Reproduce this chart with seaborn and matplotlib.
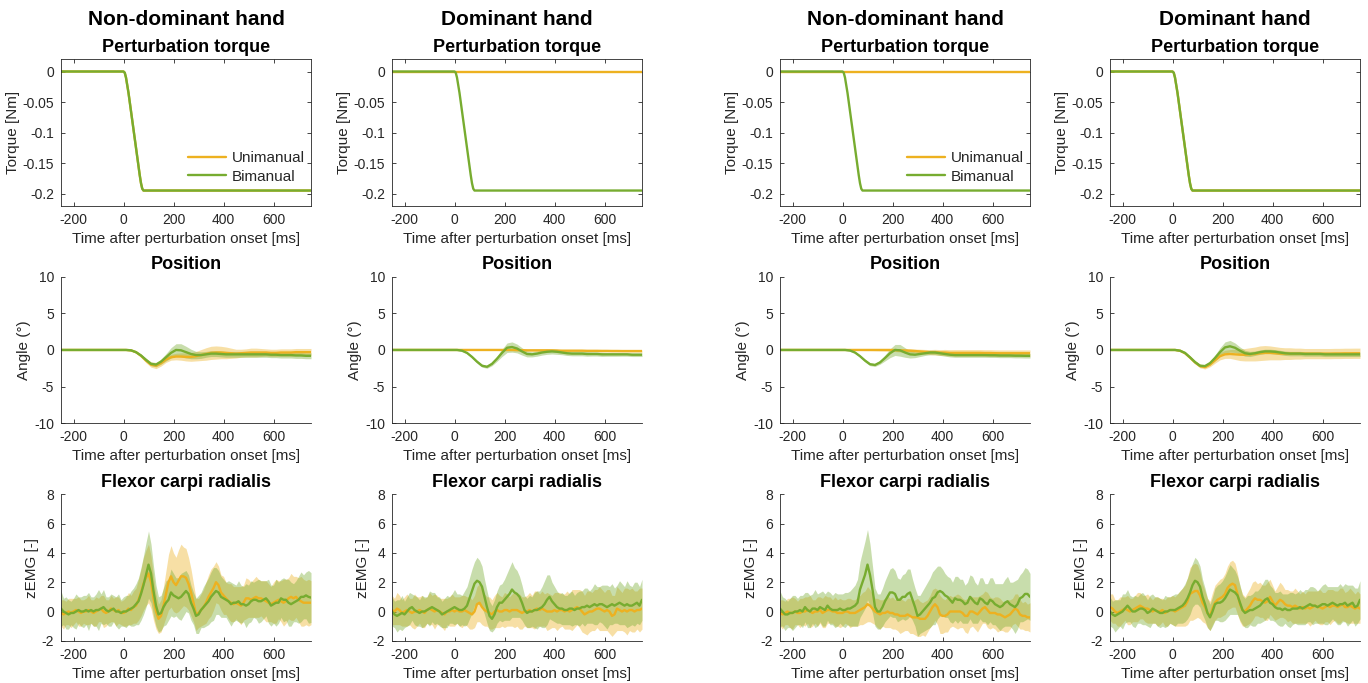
import numpy as np
import matplotlib
matplotlib.use("Agg")
import matplotlib.pyplot as plt
import seaborn as sns

sns.set_style("ticks")
plt.rcParams["font.family"] = ["Liberation Sans", "DejaVu Sans"]

# ---------------------------------------------------------------- data
col_titles = ["Non-dominant hand", "Dominant hand", "Non-dominant hand", "Dominant hand"]
row_titles = ["Perturbation torque", "Position", "Flexor carpi radialis"]
row_ylabels = ["Torque [Nm]", "Angle (°)", "zEMG [-]"]
xlabel = "Time after perturbation onset [ms]"
conditions = ["Unimanual", "Bimanual"]

xticks = [-200, 0, 200, 400, 600]
torque_yticks = [-0.2, -0.15, -0.1, -0.05, 0]
torque_yticklabels = ["-0.2", "-0.15", "-0.1", "-0.05", "0"]
pos_yticks = [-10, -5, 0, 5, 10]
emg_yticks = [-2, 0, 2, 4, 6, 8]

# perturbation torque (Nm)
t_torque = [-250, -200, -150, -100, -50, -10, 0, 5, 10, 20, 30, 40, 50, 60, 65, 70, 75, 80,
            100, 200, 300, 400, 500, 600, 700, 750]
torque_perturbed = [0.0, 0.0, 0.0, 0.0, 0.0, 0.0, 0.0, -0.002, -0.01, -0.035, -0.065, -0.095,
                    -0.125, -0.155, -0.17, -0.183, -0.192, -0.195,
                    -0.195, -0.195, -0.195, -0.195, -0.195, -0.195, -0.195, -0.195]
torque_unperturbed = [0.0, 0.0, 0.0, 0.0, 0.0, 0.0, 0.0, 0.0, 0.0, 0.0, 0.0, 0.0,
                      0.0, 0.0, 0.0, 0.0, 0.0, 0.0,
                      0.0, 0.0, 0.0, 0.0, 0.0, 0.0, 0.0, 0.0]

# wrist angle (deg), sampled every 20 ms from -250 to 750 ms
t_pos = np.arange(-250, 751, 20)

pos_a_nd_uni = [0, 0, 0, 0, 0, 0, 0, 0, 0, 0,
                0, 0, 0, 0, -0.05, -0.3, -0.8, -1.45, -2.0, -2.15,
                -1.8, -1.3, -1.0, -0.9, -0.9, -0.95, -0.95, -0.85, -0.7, -0.55,
                -0.4, -0.35, -0.35, -0.4, -0.45, -0.5, -0.45, -0.4, -0.35, -0.35,
                -0.35, -0.35, -0.4, -0.4, -0.35, -0.35, -0.35, -0.3, -0.3, -0.3,
                -0.3]
pos_a_nd_uni_sd = [0.08, 0.08, 0.08, 0.08, 0.08, 0.08, 0.08, 0.08, 0.08, 0.08,
                   0.08, 0.08, 0.08, 0.08, 0.1, 0.14, 0.2, 0.3, 0.35, 0.4,
                   0.4, 0.4, 0.4, 0.45, 0.5, 0.55, 0.6, 0.65, 0.75, 0.85,
                   0.9, 0.9, 0.85, 0.8, 0.7, 0.6, 0.55, 0.55, 0.6, 0.6,
                   0.55, 0.5, 0.5, 0.5, 0.5, 0.5, 0.5, 0.5, 0.5, 0.5,
                   0.5]
pos_a_nd_bi = [0, 0, 0, 0, 0, 0, 0, 0, 0, 0,
               0, 0, 0, 0, -0.05, -0.3, -0.75, -1.35, -1.9, -2.0,
               -1.6, -1.0, -0.4, 0.0, -0.05, -0.3, -0.55, -0.7, -0.7, -0.6,
               -0.5, -0.5, -0.55, -0.6, -0.6, -0.6, -0.6, -0.6, -0.6, -0.6,
               -0.6, -0.6, -0.65, -0.65, -0.7, -0.7, -0.7, -0.75, -0.75, -0.8,
               -0.8]
pos_a_nd_bi_sd = [0.08, 0.08, 0.08, 0.08, 0.08, 0.08, 0.08, 0.08, 0.08, 0.08,
                  0.08, 0.08, 0.08, 0.08, 0.1, 0.12, 0.15, 0.2, 0.25, 0.3,
                  0.35, 0.5, 0.7, 0.85, 0.9, 0.8, 0.65, 0.5, 0.45, 0.4,
                  0.4, 0.4, 0.4, 0.4, 0.4, 0.4, 0.4, 0.4, 0.4, 0.4,
                  0.4, 0.4, 0.4, 0.4, 0.4, 0.4, 0.4, 0.4, 0.4, 0.4,
                  0.4]
pos_a_d_uni = [0, 0, 0, 0, 0, 0, 0, 0, 0, 0,
               0, 0, 0, 0, 0, 0, 0, 0, 0, 0,
               0, 0, 0, 0, 0, -0.02, -0.03, -0.05, -0.05, -0.05,
               -0.05, -0.05, -0.06, -0.08, -0.1, -0.1, -0.1, -0.1, -0.1, -0.12,
               -0.12, -0.12, -0.13, -0.13, -0.14, -0.14, -0.15, -0.15, -0.15, -0.15,
               -0.15]
pos_a_d_uni_sd = [0.08, 0.08, 0.08, 0.08, 0.08, 0.08, 0.08, 0.08, 0.08, 0.08,
                  0.08, 0.08, 0.08, 0.08, 0.08, 0.08, 0.08, 0.08, 0.08, 0.08,
                  0.08, 0.08, 0.1, 0.1, 0.1, 0.12, 0.12, 0.12, 0.14, 0.14,
                  0.15, 0.15, 0.15, 0.15, 0.15, 0.15, 0.15, 0.15, 0.15, 0.15,
                  0.15, 0.15, 0.15, 0.15, 0.15, 0.15, 0.15, 0.15, 0.15, 0.15,
                  0.15]
pos_a_d_bi = [0, 0, 0, 0, 0, 0, 0, 0, 0, 0,
              0, 0, 0, 0, -0.1, -0.4, -0.95, -1.6, -2.15, -2.3,
              -1.9, -1.2, -0.4, 0.3, 0.4, 0.2, -0.2, -0.55, -0.6, -0.5,
              -0.35, -0.25, -0.2, -0.25, -0.35, -0.45, -0.5, -0.5, -0.5, -0.55,
              -0.55, -0.55, -0.6, -0.6, -0.6, -0.6, -0.6, -0.6, -0.65, -0.65,
              -0.65]
pos_a_d_bi_sd = [0.08, 0.08, 0.08, 0.08, 0.08, 0.08, 0.08, 0.08, 0.08, 0.08,
                 0.08, 0.08, 0.08, 0.08, 0.1, 0.12, 0.15, 0.18, 0.2, 0.2,
                 0.25, 0.35, 0.5, 0.65, 0.7, 0.6, 0.5, 0.4, 0.35, 0.35,
                 0.35, 0.35, 0.35, 0.35, 0.3, 0.3, 0.3, 0.3, 0.3, 0.3,
                 0.28, 0.28, 0.28, 0.26, 0.26, 0.26, 0.25, 0.25, 0.25, 0.25,
                 0.25]
pos_b_nd_uni = [0, 0, 0, 0, 0, 0, 0, 0, 0, 0,
                0, 0, 0, 0, 0, 0, 0, 0, 0, 0,
                0, 0, 0, -0.02, -0.05, -0.08, -0.1, -0.15, -0.2, -0.25,
                -0.3, -0.3, -0.35, -0.35, -0.4, -0.4, -0.4, -0.4, -0.4, -0.4,
                -0.4, -0.42, -0.42, -0.44, -0.45, -0.45, -0.45, -0.45, -0.45, -0.45,
                -0.45]
pos_b_nd_uni_sd = [0.08, 0.08, 0.08, 0.08, 0.08, 0.08, 0.08, 0.08, 0.08, 0.08,
                   0.08, 0.08, 0.08, 0.08, 0.08, 0.08, 0.08, 0.1, 0.1, 0.12,
                   0.14, 0.16, 0.18, 0.2, 0.22, 0.24, 0.26, 0.28, 0.3, 0.32,
                   0.35, 0.38, 0.4, 0.42, 0.44, 0.45, 0.45, 0.45, 0.45, 0.45,
                   0.45, 0.45, 0.45, 0.45, 0.45, 0.45, 0.45, 0.45, 0.45, 0.45,
                   0.45]
pos_b_nd_bi = [0, 0, 0, 0, 0, 0, 0, 0, 0, 0,
               0, 0, 0, 0, -0.08, -0.35, -0.85, -1.45, -1.95, -2.05,
               -1.7, -1.1, -0.45, 0.0, -0.05, -0.35, -0.6, -0.65, -0.55, -0.45,
               -0.35, -0.35, -0.45, -0.55, -0.65, -0.7, -0.7, -0.7, -0.7, -0.7,
               -0.7, -0.7, -0.72, -0.72, -0.75, -0.75, -0.75, -0.78, -0.78, -0.8,
               -0.8]
pos_b_nd_bi_sd = [0.08, 0.08, 0.08, 0.08, 0.08, 0.08, 0.08, 0.08, 0.08, 0.08,
                  0.08, 0.08, 0.08, 0.08, 0.1, 0.12, 0.15, 0.18, 0.2, 0.2,
                  0.25, 0.4, 0.6, 0.75, 0.8, 0.65, 0.5, 0.4, 0.35, 0.3,
                  0.3, 0.3, 0.3, 0.3, 0.3, 0.3, 0.3, 0.3, 0.3, 0.3,
                  0.3, 0.3, 0.3, 0.3, 0.3, 0.3, 0.3, 0.3, 0.3, 0.3,
                  0.3]
pos_b_d_uni = [0, 0, 0, 0, 0, 0, 0, 0, 0, 0,
               0, 0, 0, 0, -0.1, -0.45, -1.05, -1.7, -2.2, -2.35,
               -2.0, -1.4, -0.85, -0.6, -0.55, -0.6, -0.65, -0.65, -0.6, -0.55,
               -0.45, -0.4, -0.4, -0.45, -0.5, -0.5, -0.5, -0.5, -0.5, -0.5,
               -0.5, -0.5, -0.5, -0.5, -0.5, -0.48, -0.48, -0.46, -0.46, -0.45,
               -0.45]
pos_b_d_uni_sd = [0.08, 0.08, 0.08, 0.08, 0.08, 0.08, 0.08, 0.08, 0.08, 0.08,
                  0.08, 0.08, 0.08, 0.08, 0.1, 0.12, 0.16, 0.2, 0.25, 0.25,
                  0.3, 0.4, 0.5, 0.55, 0.6, 0.7, 0.8, 0.85, 0.9, 0.95,
                  1.0, 1.0, 0.95, 0.9, 0.85, 0.8, 0.8, 0.75, 0.75, 0.7,
                  0.7, 0.7, 0.7, 0.7, 0.7, 0.7, 0.7, 0.7, 0.7, 0.7,
                  0.7]
pos_b_d_bi = [0, 0, 0, 0, 0, 0, 0, 0, 0, 0,
              0, 0, 0, 0, -0.1, -0.4, -1.0, -1.65, -2.15, -2.2,
              -1.8, -1.1, -0.3, 0.35, 0.5, 0.3, -0.1, -0.45, -0.55, -0.45,
              -0.3, -0.2, -0.2, -0.25, -0.35, -0.45, -0.5, -0.5, -0.5, -0.55,
              -0.55, -0.55, -0.55, -0.6, -0.6, -0.6, -0.6, -0.6, -0.6, -0.6,
              -0.6]
pos_b_d_bi_sd = [0.08, 0.08, 0.08, 0.08, 0.08, 0.08, 0.08, 0.08, 0.08, 0.08,
                 0.08, 0.08, 0.08, 0.08, 0.1, 0.12, 0.15, 0.18, 0.2, 0.2,
                 0.25, 0.4, 0.6, 0.75, 0.8, 0.65, 0.5, 0.4, 0.35, 0.3,
                 0.3, 0.3, 0.3, 0.3, 0.3, 0.3, 0.3, 0.3, 0.3, 0.3,
                 0.3, 0.3, 0.3, 0.3, 0.3, 0.3, 0.3, 0.3, 0.3, 0.3,
                 0.3]

# flexor carpi radialis zEMG, sampled every 10 ms from -250 to 750 ms
t_emg = np.arange(-250, 751, 10)

emg_a_nd_uni = [-0.1, -0.2, -0.1, 0.0, -0.1, 0.0, 0.1, 0.0, -0.1, 0.0,
                0.0, 0.1, 0.0, -0.1, 0.0, 0.1, 0.2, 0.0, -0.1, 0.0,
                0.2, 0.1, 0.0, 0.1, -0.1, -0.1, 0.0, 0.2, 0.1, 0.3,
                0.4, 0.8, 1.3, 1.9, 2.3, 2.6, 2.0, 0.9, 0.0, -0.5,
                -0.3, 0.4, 1.2, 2.0, 2.4, 2.0, 1.8, 2.1, 2.4, 2.4,
                2.3, 1.9, 1.3, 0.6, -0.2, -0.1, 0.1, 0.3, 0.6, 1.0,
                1.3, 1.6, 2.0, 1.8, 1.3, 1.1, 0.9, 0.7, 0.6, 0.5,
                0.6, 0.5, 0.4, 0.6, 0.9, 0.9, 0.8, 0.9, 1.0, 0.9,
                0.9, 0.8, 0.7, 0.6, 0.5, 0.6, 0.7, 0.8, 0.7, 0.6,
                0.7, 0.9, 1.0, 0.9, 1.0, 0.8, 0.7, 0.6, 0.6, 0.6,
                0.6]
emg_a_nd_uni_sd = [0.9, 1.0, 0.8, 0.9, 1.0, 0.9, 0.8, 1.0, 0.9, 0.8,
                   0.9, 1.0, 0.8, 0.9, 1.0, 0.8, 0.9, 1.1, 0.9, 0.8,
                   0.9, 0.8, 1.0, 0.9, 0.8, 0.9, 1.0, 1.1, 1.0, 1.1,
                   1.2, 1.4, 1.6, 1.8, 1.9, 2.0, 1.8, 1.5, 1.2, 1.0,
                   1.1, 1.3, 1.6, 1.9, 2.1, 2.0, 1.9, 2.1, 2.2, 2.0,
                   2.0, 1.8, 1.6, 1.3, 1.1, 1.0, 1.1, 1.2, 1.4, 1.5,
                   1.6, 1.5, 1.4, 1.3, 1.2, 1.3, 1.1, 1.2, 1.3, 1.2,
                   1.1, 1.2, 1.3, 1.2, 1.4, 1.3, 1.2, 1.3, 1.4, 1.3,
                   1.2, 1.3, 1.4, 1.3, 1.2, 1.4, 1.5, 1.3, 1.4, 1.6,
                   1.5, 1.4, 1.6, 1.5, 1.4, 1.5, 1.7, 1.6, 1.5, 1.6,
                   1.5]
emg_a_nd_bi = [0.2, 0.0, -0.1, -0.2, -0.1, -0.1, 0.0, 0.1, 0.0, 0.0,
               0.1, 0.0, 0.1, 0.0, 0.1, 0.1, 0.2, 0.3, 0.1, 0.0,
               0.1, 0.2, 0.0, 0.0, -0.1, 0.0, 0.0, 0.1, 0.2, 0.3,
               0.5, 0.7, 1.2, 1.8, 2.5, 3.2, 2.6, 1.4, 0.4, -0.2,
               -0.1, 0.3, 0.6, 0.8, 1.3, 1.1, 1.0, 0.9, 1.0, 1.2,
               1.4, 1.2, 0.6, 0.2, -0.3, -0.2, 0.1, 0.3, 0.5, 0.7,
               1.0, 1.2, 1.4, 1.3, 1.0, 0.9, 0.8, 0.7, 0.5, 0.6,
               0.6, 0.7, 0.5, 0.5, 0.4, 0.5, 0.7, 0.8, 0.8, 0.7,
               0.7, 0.8, 0.9, 0.7, 0.4, 0.5, 0.6, 0.6, 0.9, 0.8,
               0.8, 0.6, 0.5, 0.6, 0.7, 0.8, 1.0, 1.0, 1.1, 1.0,
               0.95]
emg_a_nd_bi_sd = [1.2, 0.9, 1.1, 1.0, 0.8, 1.0, 1.2, 0.9, 1.0, 1.1,
                  1.0, 1.3, 0.9, 1.0, 1.1, 1.4, 1.0, 1.2, 0.9, 1.0,
                  1.1, 0.9, 1.0, 1.2, 0.9, 1.0, 1.1, 1.0, 1.2, 1.3,
                  1.4, 1.6, 1.8, 2.0, 2.2, 2.3, 2.0, 1.7, 1.4, 1.2,
                  1.2, 1.3, 1.5, 1.4, 1.6, 1.5, 1.3, 1.4, 1.6, 1.5,
                  1.4, 1.3, 1.2, 1.1, 1.2, 1.3, 1.2, 1.4, 1.5, 1.6,
                  1.7, 1.8, 1.6, 1.5, 1.4, 1.3, 1.2, 1.4, 1.5, 1.3,
                  1.2, 1.4, 1.3, 1.2, 1.5, 1.3, 1.4, 1.2, 1.3, 1.5,
                  1.4, 1.3, 1.2, 1.5, 1.4, 1.3, 1.6, 1.4, 1.3, 1.5,
                  1.4, 1.6, 1.5, 1.3, 1.4, 1.6, 1.7, 1.5, 1.6, 1.8,
                  1.7]
emg_a_d_uni = [0.1, 0.0, 0.2, 0.1, -0.1, 0.0, 0.1, 0.0, -0.1, 0.0,
               0.0, 0.1, 0.0, -0.1, 0.1, 0.2, 0.1, 0.0, 0.1, 0.0,
               -0.1, -0.2, 0.0, 0.0, 0.1, 0.0, 0.1, 0.0, 0.0, 0.1,
               0.0, -0.1, -0.2, 0.0, 0.5, 0.6, 0.3, 0.1, 0.0, -0.1,
               -0.2, 0.0, 0.1, 0.0, 0.0, 0.1, 0.1, 0.0, 0.1, 0.1,
               0.1, 0.0, -0.1, 0.0, 0.0, 0.1, 0.0, 0.1, 0.2, 0.1,
               0.2, 0.1, 0.0, 0.0, 0.0, 0.1, 0.0, 0.1, 0.1, 0.0,
               0.1, 0.0, 0.1, 0.2, 0.3, 0.2, 0.0, -0.2, -0.1, 0.0,
               0.0, 0.1, 0.2, 0.2, 0.1, 0.0, 0.1, 0.0, -0.3, -0.2,
               0.2, 0.1, 0.0, 0.1, 0.0, 0.1, 0.1, 0.0, 0.1, 0.1,
               0.2]
emg_a_d_uni_sd = [1.0, 0.9, 1.1, 1.0, 0.9, 1.0, 1.1, 0.9, 1.0, 1.2,
                  1.0, 0.9, 1.1, 1.0, 0.9, 1.1, 1.0, 1.2, 1.0, 0.9,
                  1.0, 1.1, 0.9, 1.0, 1.1, 1.0, 0.9, 1.0, 1.1, 1.0,
                  1.0, 1.1, 1.0, 1.1, 1.2, 1.3, 1.2, 1.1, 1.0, 1.1,
                  1.0, 1.1, 1.2, 1.1, 1.0, 1.2, 1.1, 1.0, 1.1, 1.2,
                  1.1, 1.2, 1.1, 1.0, 1.1, 1.2, 1.1, 1.3, 1.2, 1.1,
                  1.2, 1.1, 1.3, 1.2, 1.1, 1.2, 1.3, 1.2, 1.1, 1.2,
                  1.3, 1.2, 1.4, 1.3, 1.2, 1.3, 1.4, 1.3, 1.5, 1.4,
                  1.3, 1.4, 1.3, 1.5, 1.4, 1.3, 1.4, 1.5, 1.4, 1.3,
                  1.5, 1.4, 1.3, 1.5, 1.6, 1.4, 1.5, 1.4, 1.3, 1.5,
                  1.4]
emg_a_d_bi = [0.0, -0.2, -0.3, -0.2, -0.1, -0.2, 0.0, 0.2, 0.3, 0.1,
              0.0, -0.1, 0.0, 0.0, 0.1, 0.2, 0.3, 0.2, 0.1, 0.0,
              -0.2, -0.1, 0.0, 0.1, 0.2, 0.3, 0.2, 0.1, 0.1, 0.2,
              0.4, 0.9, 1.4, 1.9, 2.1, 2.0, 1.7, 1.0, 0.3, -0.3,
              -0.5, -0.2, 0.3, 0.6, 0.6, 0.8, 1.0, 1.2, 1.5, 1.3,
              1.2, 1.0, 0.6, 0.1, -0.1, 0.0, 0.0, 0.1, 0.1, 0.2,
              0.3, 0.5, 0.8, 1.0, 0.7, 0.5, 0.3, 0.2, 0.2, 0.1,
              0.1, 0.2, 0.2, 0.1, 0.2, 0.2, 0.3, 0.3, 0.4, 0.3,
              0.4, 0.5, 0.4, 0.5, 0.5, 0.4, 0.3, 0.4, 0.5, 0.4,
              0.5, 0.6, 0.5, 0.4, 0.5, 0.4, 0.4, 0.5, 0.6, 0.4,
              0.8]
emg_a_d_bi_sd = [1.0, 0.9, 1.1, 1.0, 1.2, 0.9, 1.0, 1.1, 0.9, 1.0,
                 1.0, 0.9, 1.1, 1.0, 0.9, 1.2, 1.0, 1.1, 0.9, 1.0,
                 0.9, 1.0, 1.1, 0.9, 1.0, 1.2, 1.0, 1.1, 1.0, 1.2,
                 1.3, 1.4, 1.5, 1.5, 1.6, 1.5, 1.4, 1.2, 1.1, 1.0,
                 0.9, 1.0, 1.1, 1.2, 1.3, 1.4, 1.6, 1.8, 1.9, 1.7,
                 1.6, 1.4, 1.2, 1.0, 1.0, 1.1, 1.0, 1.2, 1.3, 1.2,
                 1.4, 1.6, 1.7, 1.5, 1.3, 1.2, 1.1, 1.0, 1.1, 1.0,
                 1.0, 1.1, 1.2, 1.0, 1.1, 1.2, 1.1, 1.3, 1.2, 1.1,
                 1.2, 1.4, 1.3, 1.2, 1.3, 1.4, 1.5, 1.3, 1.4, 1.2,
                 1.3, 1.5, 1.4, 1.3, 1.6, 1.4, 1.3, 1.5, 1.4, 1.3,
                 1.4]
emg_b_nd_uni = [-0.1, -0.2, -0.1, 0.0, -0.1, -0.1, 0.0, -0.1, -0.1, 0.0,
                0.0, 0.1, 0.0, -0.1, 0.0, 0.0, 0.1, -0.1, 0.0, 0.1,
                0.1, 0.0, 0.0, -0.1, -0.1, -0.1, 0.0, 0.0, -0.1, -0.1,
                -0.1, 0.0, 0.1, 0.2, 0.3, 0.5, 0.4, 0.2, 0.0, -0.1,
                -0.2, -0.1, -0.1, 0.0, -0.1, -0.1, -0.2, -0.2, -0.3, -0.3,
                -0.3, -0.2, -0.3, -0.4, -0.4, -0.4, -0.5, -0.5, -0.5, -0.3,
                0.0, 0.3, 0.5, 0.3, -0.2, -0.3, -0.3, -0.2, 0.0, 0.0,
                0.0, 0.0, 0.0, -0.1, -0.3, -0.3, 0.0, 0.0, -0.1, -0.2,
                0.0, 0.2, 0.3, 0.1, -0.1, -0.1, -0.1, -0.2, -0.2, -0.3,
                -0.4, -0.3, -0.2, 0.0, 0.2, 0.1, -0.2, -0.3, -0.3, -0.4,
                -0.4]
emg_b_nd_uni_sd = [0.9, 1.0, 0.8, 0.9, 1.0, 1.1, 0.9, 0.8, 1.0, 0.9,
                   1.0, 0.9, 1.1, 0.9, 0.8, 1.0, 0.9, 1.0, 1.1, 0.9,
                   0.9, 0.8, 1.0, 0.9, 1.0, 0.9, 0.8, 0.9, 1.0, 0.9,
                   0.9, 1.0, 1.0, 1.1, 1.1, 1.2, 1.1, 1.0, 0.9, 1.0,
                   1.0, 0.9, 1.0, 1.1, 1.0, 1.1, 1.0, 1.1, 1.2, 1.1,
                   1.0, 1.1, 1.2, 1.1, 1.2, 1.3, 1.2, 1.1, 1.2, 1.1,
                   1.1, 1.2, 1.1, 1.2, 1.3, 1.2, 1.1, 1.2, 1.1, 1.0,
                   1.1, 1.2, 1.1, 1.0, 1.1, 1.2, 1.1, 1.0, 1.1, 1.2,
                   1.1, 1.0, 1.1, 1.2, 1.1, 1.0, 1.1, 1.2, 1.1, 1.0,
                   1.0, 1.1, 1.0, 0.9, 1.0, 1.1, 1.0, 0.9, 1.0, 0.9,
                   1.0]
emg_b_nd_bi = [0.2, 0.0, -0.2, -0.2, -0.1, -0.1, 0.0, 0.0, 0.1, 0.0,
               0.3, 0.1, 0.0, 0.2, 0.2, 0.1, 0.3, 0.2, 0.1, 0.4,
               0.2, 0.1, 0.1, 0.1, 0.2, 0.1, 0.1, 0.2, 0.2, 0.3,
               0.4, 0.6, 1.5, 2.0, 2.5, 3.2, 2.5, 1.5, 0.3, 0.0,
               0.0, 0.3, 0.7, 1.0, 1.3, 1.3, 1.2, 0.8, 0.8, 1.0,
               1.0, 1.2, 1.3, 0.8, 0.3, -0.3, -0.2, 0.0, 0.2, 0.4,
               0.6, 0.9, 1.0, 1.3, 1.4, 1.3, 1.1, 1.0, 0.8, 0.6,
               0.9, 0.8, 0.8, 0.7, 0.5, 0.6, 1.0, 0.8, 0.6, 0.5,
               0.9, 0.8, 0.6, 0.5, 0.8, 0.7, 0.5, 0.4, 0.3, 0.4,
               0.6, 0.7, 0.5, 0.4, 0.3, 0.5, 0.9, 1.0, 1.2, 1.2,
               1.0]
emg_b_nd_bi_sd = [1.2, 1.0, 1.1, 0.9, 1.0, 1.2, 1.1, 0.9, 1.0, 1.1,
                  1.0, 1.2, 1.1, 1.0, 1.3, 1.1, 1.0, 1.2, 1.1, 1.0,
                  1.1, 1.0, 1.2, 1.1, 1.0, 1.1, 1.2, 1.1, 1.2, 1.3,
                  1.4, 1.6, 1.9, 2.1, 2.3, 2.4, 2.1, 1.6, 1.3, 1.2,
                  1.2, 1.3, 1.4, 1.5, 1.6, 1.7, 1.6, 1.5, 1.4, 1.5,
                  1.6, 1.7, 1.6, 1.4, 1.3, 1.4, 1.3, 1.4, 1.5, 1.6,
                  1.7, 1.8, 1.9, 1.8, 1.7, 1.6, 1.5, 1.4, 1.5, 1.4,
                  1.5, 1.6, 1.4, 1.5, 1.3, 1.4, 1.5, 1.6, 1.4, 1.3,
                  1.4, 1.5, 1.3, 1.4, 1.5, 1.6, 1.4, 1.5, 1.6, 1.5,
                  1.6, 1.7, 1.5, 1.6, 1.8, 1.7, 1.6, 1.7, 1.8, 1.7,
                  1.6]
emg_b_d_uni = [0.3, 0.2, 0.0, -0.1, 0.0, 0.1, 0.2, 0.1, 0.0, 0.1,
               0.2, 0.3, 0.4, 0.3, 0.2, 0.2, 0.1, 0.0, 0.1, 0.0,
               0.0, 0.1, -0.1, 0.0, 0.1, 0.1, 0.0, 0.1, 0.2, 0.3,
               0.4, 0.7, 1.2, 1.3, 1.4, 1.4, 1.1, 0.6, 0.3, -0.1,
               -0.3, 0.2, 0.6, 0.8, 0.9, 1.0, 1.2, 1.6, 1.8, 1.9,
               1.8, 1.2, 0.5, 0.1, 0.0, 0.2, 0.4, 0.7, 0.9, 0.8,
               0.8, 0.7, 0.6, 0.7, 1.0, 0.7, 0.4, 0.6, 0.8, 0.7,
               0.5, 0.4, 0.4, 0.3, 0.4, 0.3, 0.2, 0.3, 0.2, 0.3,
               0.2, 0.3, 0.4, 0.3, 0.3, 0.2, 0.3, 0.4, 0.3, 0.4,
               0.4, 0.3, 0.4, 0.5, 0.3, 0.3, 0.4, 0.3, 0.2, 0.3,
               0.2]
emg_b_d_uni_sd = [0.9, 1.0, 0.8, 0.9, 1.0, 0.9, 0.8, 1.0, 0.9, 0.8,
                  0.9, 1.0, 0.9, 0.8, 0.9, 1.0, 0.9, 0.8, 0.9, 1.0,
                  0.9, 0.8, 0.9, 1.0, 0.9, 1.0, 1.0, 1.1, 1.2, 1.3,
                  1.4, 1.6, 1.8, 1.9, 1.9, 1.8, 1.6, 1.3, 1.1, 1.0,
                  1.0, 1.1, 1.2, 1.2, 1.3, 1.3, 1.4, 1.5, 1.6, 1.6,
                  1.5, 1.4, 1.2, 1.1, 1.0, 1.1, 1.2, 1.3, 1.2, 1.1,
                  1.2, 1.1, 1.2, 1.3, 1.2, 1.1, 1.0, 1.1, 1.2, 1.1,
                  1.0, 1.1, 1.0, 1.1, 1.2, 1.1, 1.0, 1.1, 1.0, 1.1,
                  1.2, 1.1, 1.0, 1.1, 1.2, 1.1, 1.0, 1.1, 1.2, 1.1,
                  1.0, 1.1, 1.2, 1.1, 1.0, 1.1, 1.2, 1.1, 1.0, 1.1,
                  1.0]
emg_b_d_bi = [0.0, -0.2, -0.3, -0.2, -0.1, 0.0, 0.2, 0.4, 0.2, 0.0,
              0.0, 0.1, 0.2, 0.2, 0.1, -0.1, 0.0, 0.2, 0.1, 0.0,
              -0.1, -0.1, 0.0, 0.0, 0.1, 0.1, 0.1, 0.2, 0.3, 0.4,
              0.6, 0.9, 1.3, 1.8, 2.1, 2.0, 1.7, 1.0, 0.5, -0.1,
              -0.4, 0.0, 0.5, 0.6, 0.6, 0.7, 0.9, 1.2, 1.5, 1.4,
              1.3, 1.1, 0.6, 0.1, -0.1, 0.0, 0.1, 0.1, 0.2, 0.3,
              0.4, 0.6, 0.8, 0.9, 0.6, 0.5, 0.3, 0.2, 0.2, 0.1,
              0.2, 0.1, 0.1, 0.2, 0.2, 0.2, 0.3, 0.2, 0.3, 0.4,
              0.5, 0.4, 0.4, 0.3, 0.4, 0.5, 0.5, 0.4, 0.5, 0.6,
              0.5, 0.4, 0.5, 0.5, 0.6, 0.4, 0.5, 0.6, 0.3, 0.4,
              0.8]
emg_b_d_bi_sd = [1.0, 0.9, 1.1, 1.0, 0.9, 1.2, 1.0, 1.1, 0.9, 1.0,
                 1.1, 0.9, 1.0, 1.1, 1.0, 0.9, 1.1, 1.0, 0.9, 1.0,
                 1.0, 0.9, 1.1, 1.0, 0.9, 1.0, 1.1, 1.0, 1.1, 1.2,
                 1.3, 1.4, 1.5, 1.5, 1.6, 1.5, 1.4, 1.2, 1.1, 1.0,
                 0.9, 1.0, 1.1, 1.2, 1.3, 1.4, 1.5, 1.6, 1.7, 1.6,
                 1.5, 1.3, 1.2, 1.0, 1.0, 1.1, 1.0, 1.1, 1.2, 1.1,
                 1.2, 1.3, 1.4, 1.3, 1.2, 1.1, 1.0, 1.1, 1.2, 1.1,
                 1.0, 1.1, 1.2, 1.1, 1.0, 1.1, 1.2, 1.1, 1.2, 1.1,
                 1.2, 1.3, 1.2, 1.1, 1.2, 1.3, 1.4, 1.3, 1.2, 1.1,
                 1.2, 1.3, 1.4, 1.2, 1.3, 1.4, 1.3, 1.2, 1.3, 1.2,
                 1.3]

# ---------------------------------------------------------------- panels
torque_panels = [(torque_perturbed, torque_perturbed),
                 (torque_unperturbed, torque_perturbed),
                 (torque_unperturbed, torque_perturbed),
                 (torque_perturbed, torque_perturbed)]
pos_panels = [(pos_a_nd_uni, pos_a_nd_uni_sd, pos_a_nd_bi, pos_a_nd_bi_sd),
              (pos_a_d_uni, pos_a_d_uni_sd, pos_a_d_bi, pos_a_d_bi_sd),
              (pos_b_nd_uni, pos_b_nd_uni_sd, pos_b_nd_bi, pos_b_nd_bi_sd),
              (pos_b_d_uni, pos_b_d_uni_sd, pos_b_d_bi, pos_b_d_bi_sd)]
emg_panels = [(emg_a_nd_uni, emg_a_nd_uni_sd, emg_a_nd_bi, emg_a_nd_bi_sd),
              (emg_a_d_uni, emg_a_d_uni_sd, emg_a_d_bi, emg_a_d_bi_sd),
              (emg_b_nd_uni, emg_b_nd_uni_sd, emg_b_nd_bi, emg_b_nd_bi_sd),
              (emg_b_d_uni, emg_b_d_uni_sd, emg_b_d_bi, emg_b_d_bi_sd)]
legend_columns = [0, 2]

UNI = "#EDB120"
BI = "#77AC30"
INK = "#262626"

FIG_W, FIG_H = 1368, 683
fig = plt.figure(figsize=(FIG_W / 100, FIG_H / 100), dpi=100)

col_left_px = [61, 392, 780, 1110]
ax_w_px = 250
row_top_px = [59.3, 276.7, 494.3]
ax_h_px = 146.5


def make_axes(col, row):
    left = col_left_px[col] / FIG_W
    bottom = 1 - (row_top_px[row] + ax_h_px) / FIG_H
    return fig.add_axes([left, bottom, ax_w_px / FIG_W, ax_h_px / FIG_H])


def style_axes(ax, row, boxed):
    ax.set_xlim(-250, 750)
    ax.set_xticks(xticks)
    ax.set_xticklabels([str(v) for v in xticks])
    for side in ["left", "bottom", "top", "right"]:
        ax.spines[side].set_color(INK)
        ax.spines[side].set_linewidth(0.6)
    if not boxed:
        ax.spines["top"].set_visible(False)
        ax.spines["right"].set_visible(False)
    ax.tick_params(direction="in", length=3, width=0.6, color=INK,
                   labelcolor=INK, labelsize=10, pad=5,
                   top=boxed, right=boxed)
    ax.set_xlabel(xlabel, fontsize=11, color=INK, labelpad=3.5)
    ax.set_ylabel(row_ylabels[row], fontsize=11, color=INK, labelpad=2)
    ax.set_title(row_titles[row], fontsize=13, fontweight="bold", color="black", pad=5.5)
    ax.grid(False)


def band_panel(ax, t, uni, uni_sd, bi, bi_sd):
    uni = np.asarray(uni)
    bi = np.asarray(bi)
    uni_sd = np.asarray(uni_sd)
    bi_sd = np.asarray(bi_sd)
    ax.fill_between(t, uni - uni_sd, uni + uni_sd, color=UNI, alpha=0.4, linewidth=0)
    ax.fill_between(t, bi - bi_sd, bi + bi_sd, color=BI, alpha=0.4, linewidth=0)
    sns.lineplot(x=t, y=uni, ax=ax, color=UNI, linewidth=1.7, estimator=None)
    sns.lineplot(x=t, y=bi, ax=ax, color=BI, linewidth=1.7, estimator=None)


for c in range(4):
    # row 1: perturbation torque
    ax = make_axes(c, 0)
    uni_tq, bi_tq = torque_panels[c]
    sns.lineplot(x=t_torque, y=uni_tq, ax=ax, color=UNI, linewidth=1.7,
                 estimator=None, label=conditions[0])
    sns.lineplot(x=t_torque, y=bi_tq, ax=ax, color=BI, linewidth=1.7,
                 estimator=None, label=conditions[1])
    ax.set_ylim(-0.22, 0.02)
    ax.set_yticks(torque_yticks)
    ax.set_yticklabels(torque_yticklabels)
    style_axes(ax, 0, boxed=True)
    if c in legend_columns:
        ax.legend(loc="lower right", bbox_to_anchor=(1.0, 0.11), frameon=False,
                  fontsize=11, handlelength=2.5, handletextpad=0.4,
                  labelspacing=0.3, borderaxespad=0.2, borderpad=0.2)
    else:
        ax.get_legend().remove()

    # header above each column
    fig.text((col_left_px[c] + ax_w_px / 2) / FIG_W, 1 - 25 / FIG_H, col_titles[c],
             ha="center", va="baseline", fontsize=15, fontweight="bold", color="black")

    # row 2: position
    ax = make_axes(c, 1)
    band_panel(ax, t_pos, *pos_panels[c])
    ax.set_ylim(-10, 10)
    ax.set_yticks(pos_yticks)
    ax.set_yticklabels([str(v) for v in pos_yticks])
    style_axes(ax, 1, boxed=False)

    # row 3: EMG
    ax = make_axes(c, 2)
    band_panel(ax, t_emg, *emg_panels[c])
    ax.set_ylim(-2, 8)
    ax.set_yticks(emg_yticks)
    ax.set_yticklabels([str(v) for v in emg_yticks])
    style_axes(ax, 2, boxed=False)

fig.savefig("out.png", dpi=100, facecolor="white")
